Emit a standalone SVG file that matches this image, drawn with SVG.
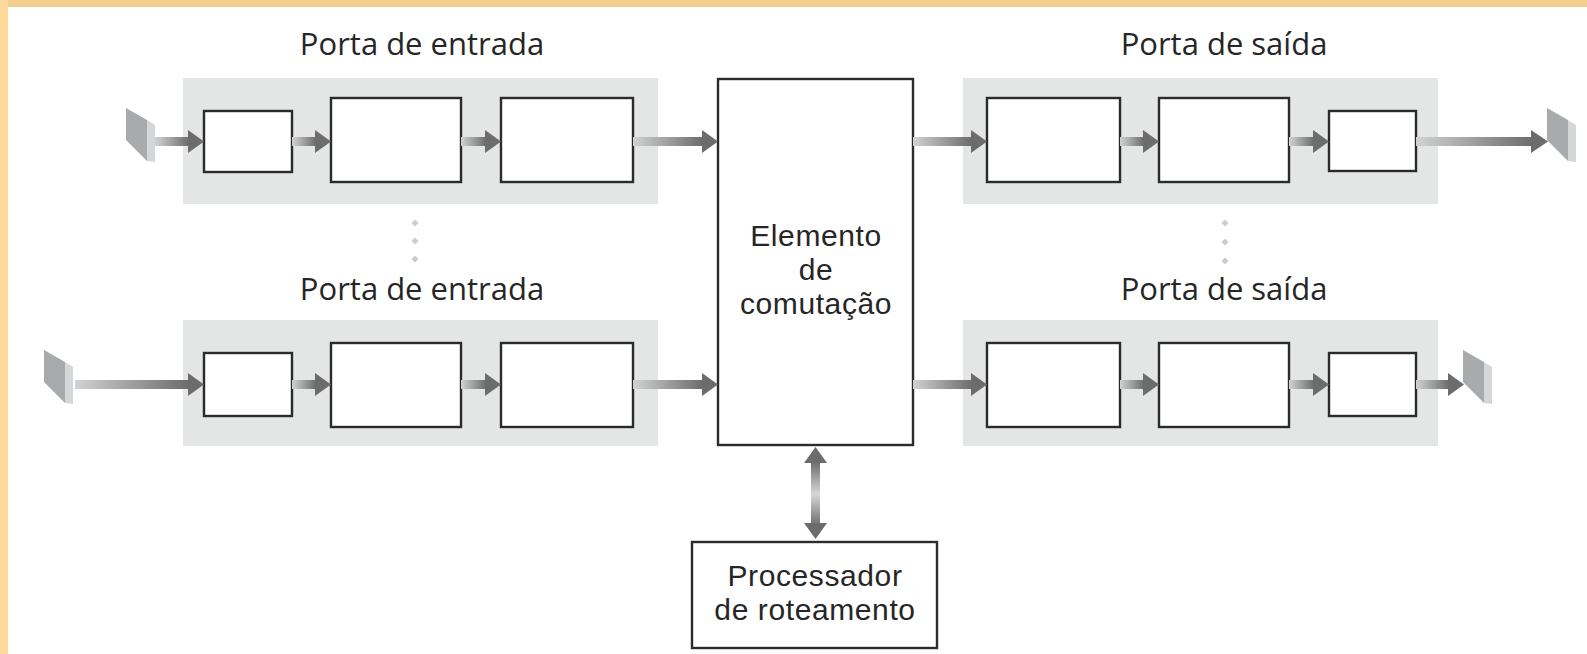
<svg xmlns="http://www.w3.org/2000/svg" width="1587" height="654" viewBox="0 0 1587 654">
<defs>
<linearGradient id="gh" x1="0" y1="0" x2="1" y2="0">
<stop offset="0" stop-color="#d2d2d2"/>
<stop offset="1" stop-color="#6c6c6c"/>
</linearGradient>
<linearGradient id="gv" x1="0" y1="0" x2="0" y2="1">
<stop offset="0" stop-color="#6c6c6c"/>
<stop offset="0.5" stop-color="#d8d8d8"/>
<stop offset="1" stop-color="#6c6c6c"/>
</linearGradient>
<g id="wall">
<polygon points="0,0 21,12 21,53 0,32" fill="#a9aaac"/>
<polygon points="21,12 29,17 29,54 21,53" fill="#d5d6d8"/>
</g>
<path id="dot" d="M0,-3.5 L3.5,0 L0,3.5 L-3.5,0 Z" fill="#cbcbcb"/>
</defs>
<style>
.panel{fill:#e4e5e5}
.box{fill:#fff;stroke:#2b2b2b;stroke-width:2.4}
.lbl{font-family:"Open Sans","Noto Sans",sans-serif;font-size:31px;fill:#262626;text-anchor:middle}
.ml{font-family:"Liberation Sans",Arial,sans-serif;font-size:30px;fill:#262626;text-anchor:middle;letter-spacing:0.6px}
.shaft{fill:url(#gh)}
.head{fill:#6c6c6c}
</style>
<rect width="1587" height="654" fill="#fff"/>
<rect x="0" y="0" width="1587" height="7" fill="#f2cf8f"/>
<rect x="0" y="0" width="8" height="654" fill="#fdd99b"/>

<g id="in1">
<text class="lbl" x="422" y="55">Porta de entrada</text>
<rect class="panel" x="183" y="78" width="475" height="126"/>
<rect class="box" x="204" y="111" width="88" height="61"/>
<rect class="box" x="331" y="98" width="130" height="84"/>
<rect class="box" x="501" y="98" width="132" height="84"/>
</g>
<g id="in2">
<text class="lbl" x="422" y="300">Porta de entrada</text>
<rect class="panel" x="183" y="320" width="475" height="126"/>
<rect class="box" x="204" y="353" width="88" height="63"/>
<rect class="box" x="331" y="343" width="130" height="84"/>
<rect class="box" x="501" y="343" width="132" height="84"/>
</g>
<g id="out1">
<text class="lbl" x="1224" y="55">Porta de saída</text>
<rect class="panel" x="963" y="78" width="475" height="126"/>
<rect class="box" x="987" y="98" width="133" height="84"/>
<rect class="box" x="1159" y="98" width="130" height="84"/>
<rect class="box" x="1329" y="111" width="87" height="60"/>
</g>
<g id="out2">
<text class="lbl" x="1224" y="300">Porta de saída</text>
<rect class="panel" x="963" y="320" width="475" height="126"/>
<rect class="box" x="987" y="343" width="133" height="84"/>
<rect class="box" x="1159" y="343" width="130" height="84"/>
<rect class="box" x="1329" y="353" width="87" height="63"/>
</g>
<g id="dots">
<use href="#dot" x="415" y="223"/><use href="#dot" x="415" y="241"/><use href="#dot" x="415" y="259"/>
<use href="#dot" x="1225" y="223"/><use href="#dot" x="1225" y="242"/><use href="#dot" x="1225" y="261"/>
</g>
<g id="walls">
<use href="#wall" x="126" y="108"/>
<use href="#wall" x="44" y="350"/>
<use href="#wall" x="1547" y="108"/>
<use href="#wall" x="1463" y="350"/>
</g>
<g id="switch">
<rect class="box" x="718" y="79" width="195" height="366"/>
<text class="ml" x="816" y="246">Elemento</text>
<text class="ml" x="816" y="280">de</text>
<text class="ml" x="816" y="314">comutação</text>
</g>
<g id="processor">
<rect class="box" x="692" y="542" width="245" height="106"/>
<text class="ml" x="815" y="586">Processador</text>
<text class="ml" x="815" y="620">de roteamento</text>
</g>
<g id="connectors">
<rect class="shaft" x="155" y="137" width="34" height="9"/><polygon class="head" points="188,130 204,141.5 188,153"/>
<rect class="shaft" x="292" y="137" width="24" height="9"/><polygon class="head" points="315,130 331,141.5 315,153"/>
<rect class="shaft" x="461" y="137" width="25" height="9"/><polygon class="head" points="485,130 501,141.5 485,153"/>
<rect class="shaft" x="633" y="137" width="70" height="9"/><polygon class="head" points="702,130 718,141.5 702,153"/>
<rect class="shaft" x="913" y="137" width="59" height="9"/><polygon class="head" points="971,130 987,141.5 971,153"/>
<rect class="shaft" x="1120" y="137" width="24" height="9"/><polygon class="head" points="1143,130 1159,141.5 1143,153"/>
<rect class="shaft" x="1289" y="137" width="25" height="9"/><polygon class="head" points="1313,130 1329,141.5 1313,153"/>
<rect class="shaft" x="1416" y="137" width="116" height="9"/><polygon class="head" points="1531,130 1548,141.5 1531,153"/>
<rect class="shaft" x="75" y="380" width="114" height="9"/><polygon class="head" points="188,373 204,384.5 188,396"/>
<rect class="shaft" x="292" y="380" width="24" height="9"/><polygon class="head" points="315,373 331,384.5 315,396"/>
<rect class="shaft" x="461" y="380" width="25" height="9"/><polygon class="head" points="485,373 501,384.5 485,396"/>
<rect class="shaft" x="633" y="380" width="70" height="9"/><polygon class="head" points="702,373 718,384.5 702,396"/>
<rect class="shaft" x="913" y="380" width="59" height="9"/><polygon class="head" points="971,373 987,384.5 971,396"/>
<rect class="shaft" x="1120" y="380" width="24" height="9"/><polygon class="head" points="1143,373 1159,384.5 1143,396"/>
<rect class="shaft" x="1289" y="380" width="25" height="9"/><polygon class="head" points="1313,373 1329,384.5 1313,396"/>
<rect class="shaft" x="1416" y="380" width="33" height="9"/><polygon class="head" points="1448,373 1464,384.5 1448,396"/>
<rect x="811" y="462" width="9" height="64" fill="url(#gv)"/>
<polygon class="head" points="815.5,447 827,463 804,463"/>
<polygon class="head" points="815.5,539 827,523 804,523"/>
</g>
</svg>
